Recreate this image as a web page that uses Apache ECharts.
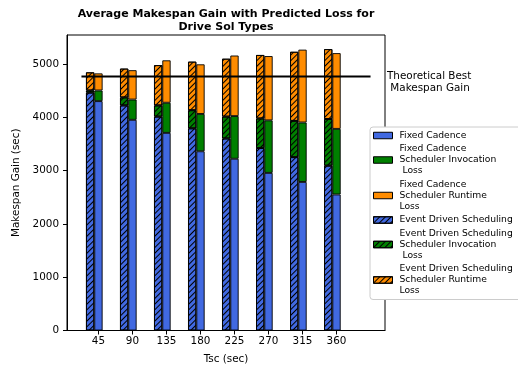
<!DOCTYPE html>
<html>
<head>
<meta charset="utf-8">
<script src="https://cdn.jsdelivr.net/npm/echarts@6/dist/echarts.min.js"></script>
<style>
  html, body { margin: 0; padding: 0; background: #fff; }
  #chart { width: 518px; height: 369px; }
</style>
</head>
<body>
<div id="chart"></div>
<script>
// Scheduling intervals (x positions) and y-axis tick labels
const tsc = [45, 90, 135, 180, 225, 270, 315, 360];
const yTicks = [0, 1000, 2000, 3000, 4000, 5000];

// Fixed cadence: gain plus the two loss components stacked on top
const fixedCadence = [4300, 3950, 3705, 3360, 3220, 2955, 2785, 2550];
const fixedInvocationLoss = [200, 380, 565, 700, 800, 985, 1115, 1230];
const fixedRuntimeLoss = [320, 550, 795, 930, 1135, 1205, 1365, 1420];

// Event driven scheduling: gain plus the two loss components
const eventDriven = [4460, 4220, 4010, 3790, 3600, 3420, 3250, 3090];
const eventInvocationLoss = [40, 150, 210, 340, 410, 555, 680, 875];
const eventRuntimeLoss = [340, 540, 755, 910, 1085, 1190, 1295, 1310];

// Theoretical best makespan gain and the x span of its reference line
const theoreticalBest = 4760;
const bestLineSpan = [22.5, 405];

const FONT = 'DejaVu Sans';
const BLUE = '#4169E1', GREEN = '#008000', ORANGE = '#FF8C00';

const names = {
  fc: 'Fixed Cadence',
  fcInv: 'Fixed Cadence\nScheduler Invocation\n Loss',
  fcRun: 'Fixed Cadence\nScheduler Runtime\nLoss',
  ed: 'Event Driven Scheduling',
  edInv: 'Event Driven Scheduling\nScheduler Invocation\n Loss',
  edRun: 'Event Driven Scheduling\nScheduler Runtime\nLoss'
};

// "///" hatch for the event driven bars
const hatch = {
  symbol: 'rect',
  symbolSize: 1,
  dashArrayX: [1, 0],
  dashArrayY: [1, 2.2],
  rotation: -Math.PI / 4,
  color: '#000'
};

const X_MIN = 3.375, X_MAX = 424.125, HALF_BAR = 5.5;

// value first, position second: the stack then accumulates the values
function rows(values) {
  return tsc.map((x, i) => [values[i], x]);
}

function barSeries(name, values, color, stack, hatched) {
  const itemStyle = { color: color, borderColor: '#000', borderWidth: 0.9 };
  if (hatched) itemStyle.decal = hatch;
  return {
    name: name,
    type: 'bar',
    xAxisIndex: 1,
    stack: stack,
    barWidth: 8.3,
    barGap: '0%',
    encode: { x: 1, y: 0 },
    itemStyle: itemStyle,
    emphasis: { disabled: true },
    data: rows(values)
  };
}

const plain = v => String(v);

const chart = echarts.init(document.getElementById('chart'), null, { renderer: 'canvas' });

chart.setOption({
  animation: false,
  backgroundColor: '#fff',
  textStyle: { fontFamily: FONT },
  title: {
    text: 'Average Makespan Gain with Predicted Loss for\nDrive Sol Types',
    left: 221,
    top: 2,
    textAlign: 'center',
    textStyle: { fontFamily: FONT, fontSize: 11, fontWeight: 'bold', color: '#000', lineHeight: 13.5 }
  },
  grid: {
    left: 67, right: 133, top: 35, bottom: 38,
    show: true, borderColor: '#000', borderWidth: 1
  },
  legend: {
    orient: 'vertical',
    left: 370,
    top: 127,
    padding: [3, 12, 3, 3],
    itemGap: 2.5,
    itemWidth: 19,
    itemHeight: 6.5,
    backgroundColor: '#fff',
    borderColor: '#cccccc',
    borderWidth: 1,
    borderRadius: 3,
    icon: 'rect',
    itemStyle: { borderColor: '#000', borderWidth: 1 },
    textStyle: { fontFamily: FONT, fontSize: 9.2, lineHeight: 11, color: '#000', padding: [0, 0, 0, 2] },
    data: [names.fc, names.fcInv, names.fcRun, names.ed, names.edInv, names.edRun]
  },
  xAxis: [
    {
      type: 'value',
      min: X_MIN,
      max: X_MAX,
      name: 'Tsc (sec)',
      nameLocation: 'middle',
      nameGap: 23.5,
      nameTextStyle: { fontFamily: FONT, fontSize: 10.4, color: '#000' },
      axisLine: { lineStyle: { color: '#000', width: 1 } },
      axisTick: { customValues: tsc, length: 4, lineStyle: { color: '#000' } },
      axisLabel: { customValues: tsc, formatter: plain, margin: 6, fontFamily: FONT, fontSize: 10.4, color: '#000' },
      splitLine: { show: false }
    },
    {
      // same scale as the visible axis, shifted by half a bar so each
      // solid bar sits on its tick and the hatched bar sits to its left
      type: 'value',
      min: X_MIN + HALF_BAR,
      max: X_MAX + HALF_BAR,
      show: false,
      splitLine: { show: false }
    }
  ],
  yAxis: {
    type: 'value',
    min: 0,
    max: 5540,
    name: 'Makespan Gain (sec)',
    nameLocation: 'middle',
    nameRotate: 90,
    nameGap: 34,
    nameTextStyle: { fontFamily: FONT, fontSize: 10.4, color: '#000' },
    axisLine: { show: true, lineStyle: { color: '#000', width: 1 } },
    axisTick: { show: true, customValues: yTicks, length: 4, lineStyle: { color: '#000' } },
    axisLabel: { customValues: yTicks, formatter: plain, margin: 8, fontFamily: FONT, fontSize: 10.4, color: '#000' },
    splitLine: { show: false }
  },
  series: [
    barSeries(names.ed, eventDriven, BLUE, 'event', true),
    barSeries(names.edInv, eventInvocationLoss, GREEN, 'event', true),
    barSeries(names.edRun, eventRuntimeLoss, ORANGE, 'event', true),
    barSeries(names.fc, fixedCadence, BLUE, 'fixed', false),
    barSeries(names.fcInv, fixedInvocationLoss, GREEN, 'fixed', false),
    barSeries(names.fcRun, fixedRuntimeLoss, ORANGE, 'fixed', false),
    {
      name: 'Theoretical Best',
      type: 'line',
      xAxisIndex: 0,
      symbol: 'none',
      lineStyle: { color: '#000', width: 2 },
      emphasis: { disabled: true },
      z: 5,
      data: bestLineSpan.map(x => [x, theoreticalBest])
    }
  ],
  graphic: [
    {
      type: 'text',
      left: 387,
      top: 69.5,
      style: {
        text: 'Theoretical Best\n Makespan Gain',
        fontFamily: FONT,
        fontSize: 10.4,
        lineHeight: 12.6,
        fill: '#000'
      }
    }
  ]
});
</script>
</body>
</html>
